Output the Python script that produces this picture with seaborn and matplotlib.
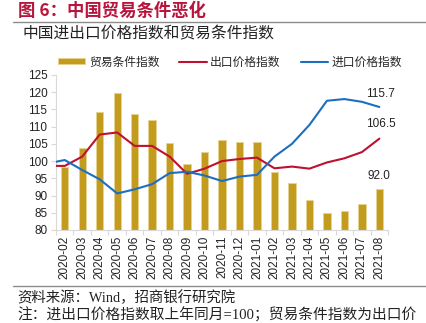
import matplotlib
matplotlib.use("Agg")
import matplotlib.pyplot as plt
import seaborn as sns
import pandas as pd
import numpy as np
from matplotlib.patches import Patch
from matplotlib.lines import Line2D

# --- data ---------------------------------------------------------------
months = ["2020-02", "2020-03", "2020-04", "2020-05", "2020-06", "2020-07",
          "2020-08", "2020-09", "2020-10", "2020-11", "2020-12", "2021-01",
          "2021-02", "2021-03", "2021-04", "2021-05", "2021-06", "2021-07",
          "2021-08"]
terms_of_trade = [98.4, 103.9, 114.1, 119.7, 113.8, 111.8, 105.1, 99.1, 102.5,
                  106.1, 105.5, 105.4, 96.8, 93.6, 88.6, 84.9, 85.4, 87.6, 92.0]

# price series carry one extra leading month (2020-01), partly visible at the left edge
line_months = ["2020-01"] + months
export_price = [98.6, 98.6, 101.3, 107.7, 108.3, 104.4, 104.4, 101.3, 96.3, 97.8,
                100.0, 100.6, 101.0, 97.9, 98.4, 97.8, 99.6, 100.8, 102.6, 106.5]
import_price = [99.3, 100.3, 97.4, 94.7, 90.6, 91.8, 93.3, 96.5, 96.9, 95.8,
                94.2, 95.5, 96.0, 101.3, 105.0, 110.5, 117.5, 118.0, 117.2, 115.7]

series_names = ["贸易条件指数", "出口价格指数", "进口价格指数"]
title_text = "图 6：中国贸易条件恶化"
subtitle_text = "中国进出口价格指数和贸易条件指数"
source_text = "资料来源：Wind，招商银行研究院"
note_text = "注：进出口价格指数取上年同月=100；贸易条件指数为出口价"

# --- styling --------------------------------------------------------------
GOLD = "#C39C1F"
GOLD_EDGE = "#E6D48F"
RED = "#C0102F"
BLUE = "#1C6EC0"
TITLE_RED = "#B8143C"
GRID_GRAY = "#D9D9D9"

sns.set_theme(style="white")
plt.rcParams["font.family"] = ["Liberation Sans", "Noto Sans CJK SC", "DejaVu Sans"]
CJK = ["Noto Sans CJK SC", "DejaVu Sans"]
SERIF_CJK = ["Liberation Serif", "Noto Sans CJK SC", "DejaVu Sans"]

bar_df = pd.DataFrame({"month": months, "value": terms_of_trade})
bar_df["pos"] = np.arange(len(months))
line_df = pd.DataFrame({"month": line_months, "export": export_price,
                        "import": import_price})
line_df["pos"] = np.arange(len(line_months)) - 1

fig = plt.figure(figsize=(4.26, 3.23), dpi=100)
ax = fig.add_axes([0.1315, 0.288, 0.7795, 0.480])

sns.barplot(data=bar_df, x="pos", y="value", native_scale=True, width=0.42,
            color=GOLD, edgecolor=GOLD_EDGE, linewidth=0.6, errorbar=None,
            saturation=1, ax=ax, zorder=1)
sns.lineplot(data=line_df, x="pos", y="export", color=RED, linewidth=1.5,
             ax=ax, zorder=3)
sns.lineplot(data=line_df, x="pos", y="import", color=BLUE, linewidth=1.5,
             ax=ax, zorder=3)

ax.set_xlim(-0.5, len(months) - 0.5)
ax.set_ylim(80, 125)
ax.set_yticks(np.arange(80, 126, 5))
ax.set_xticks(bar_df["pos"])
ax.set_xticklabels(months, rotation=90)
ax.set_xticks(np.arange(-0.5, len(months), 1.0), minor=True)
ax.set_xlabel("")
ax.set_ylabel("")

ax.tick_params(axis="y", which="major", left=True, length=3.6, width=0.8,
               color=GRID_GRAY, labelsize=8.5, pad=2.5, labelcolor="#222222")
ax.tick_params(axis="x", which="major", bottom=False, length=0,
               labelsize=8.5, pad=4, labelcolor="#222222")
ax.tick_params(axis="x", which="minor", bottom=True, length=3.5, width=0.8,
               color=GRID_GRAY)
for side in ("top", "right"):
    ax.spines[side].set_visible(False)
for side in ("left", "bottom"):
    ax.spines[side].set_color(GRID_GRAY)
    ax.spines[side].set_linewidth(0.8)
ax.grid(False)

# value labels at the last month
last = len(months) - 1
ax.annotate(f"{terms_of_trade[-1]:.1f}", (last, terms_of_trade[-1]),
            xytext=(0, 5), textcoords="offset points", ha="center",
            va="bottom", fontsize=8.5, color="#222222")
ax.annotate(f"{export_price[-1]:.1f}", (last, export_price[-1]),
            xytext=(1, 6), textcoords="offset points", ha="center",
            va="bottom", fontsize=8.5, color="#222222")
ax.annotate(f"{import_price[-1]:.1f}", (last, import_price[-1]),
            xytext=(1, 5), textcoords="offset points", ha="center",
            va="bottom", fontsize=8.5, color="#222222")

# legend
handles = [Patch(facecolor=GOLD, edgecolor=GOLD_EDGE, linewidth=0.6),
           Line2D([], [], color=RED, linewidth=1.5),
           Line2D([], [], color=BLUE, linewidth=1.5)]
fig.legend(handles, series_names, loc="center", ncol=3,
           bbox_to_anchor=(0.54, 1 - 62 / 323), frameon=False,
           prop={"family": CJK, "size": 8.5}, handlelength=2.3,
           handleheight=0.45, handletextpad=0.3, columnspacing=1.7)

# titles, rules and footer
fig.text(18 / 426, 1 - 11 / 323, title_text, family=CJK, fontsize=12.5,
         fontweight="bold", color=TITLE_RED, ha="left", va="center")
fig.add_artist(Line2D([13 / 426, 1.0], [1 - 22 / 323] * 2, color="#8C8C8C",
                      linewidth=1.0, transform=fig.transFigure))
fig.text(22 / 426, 1 - 34 / 323, subtitle_text, family=CJK, fontsize=11.3,
         color="#222222", ha="left", va="center")
fig.add_artist(Line2D([13 / 426, 1.0], [1 - 286 / 323] * 2, color="#8C8C8C",
                      linewidth=1.0, transform=fig.transFigure))
fig.text(17 / 426, 1 - 298 / 323, source_text, family=SERIF_CJK, fontsize=10.4,
         color="#222222", ha="left", va="center")
fig.text(17 / 426, 1 - 315 / 323, note_text, family=SERIF_CJK, fontsize=10.6,
         color="#222222", ha="left", va="center")

fig.savefig("out.png", dpi=100)
